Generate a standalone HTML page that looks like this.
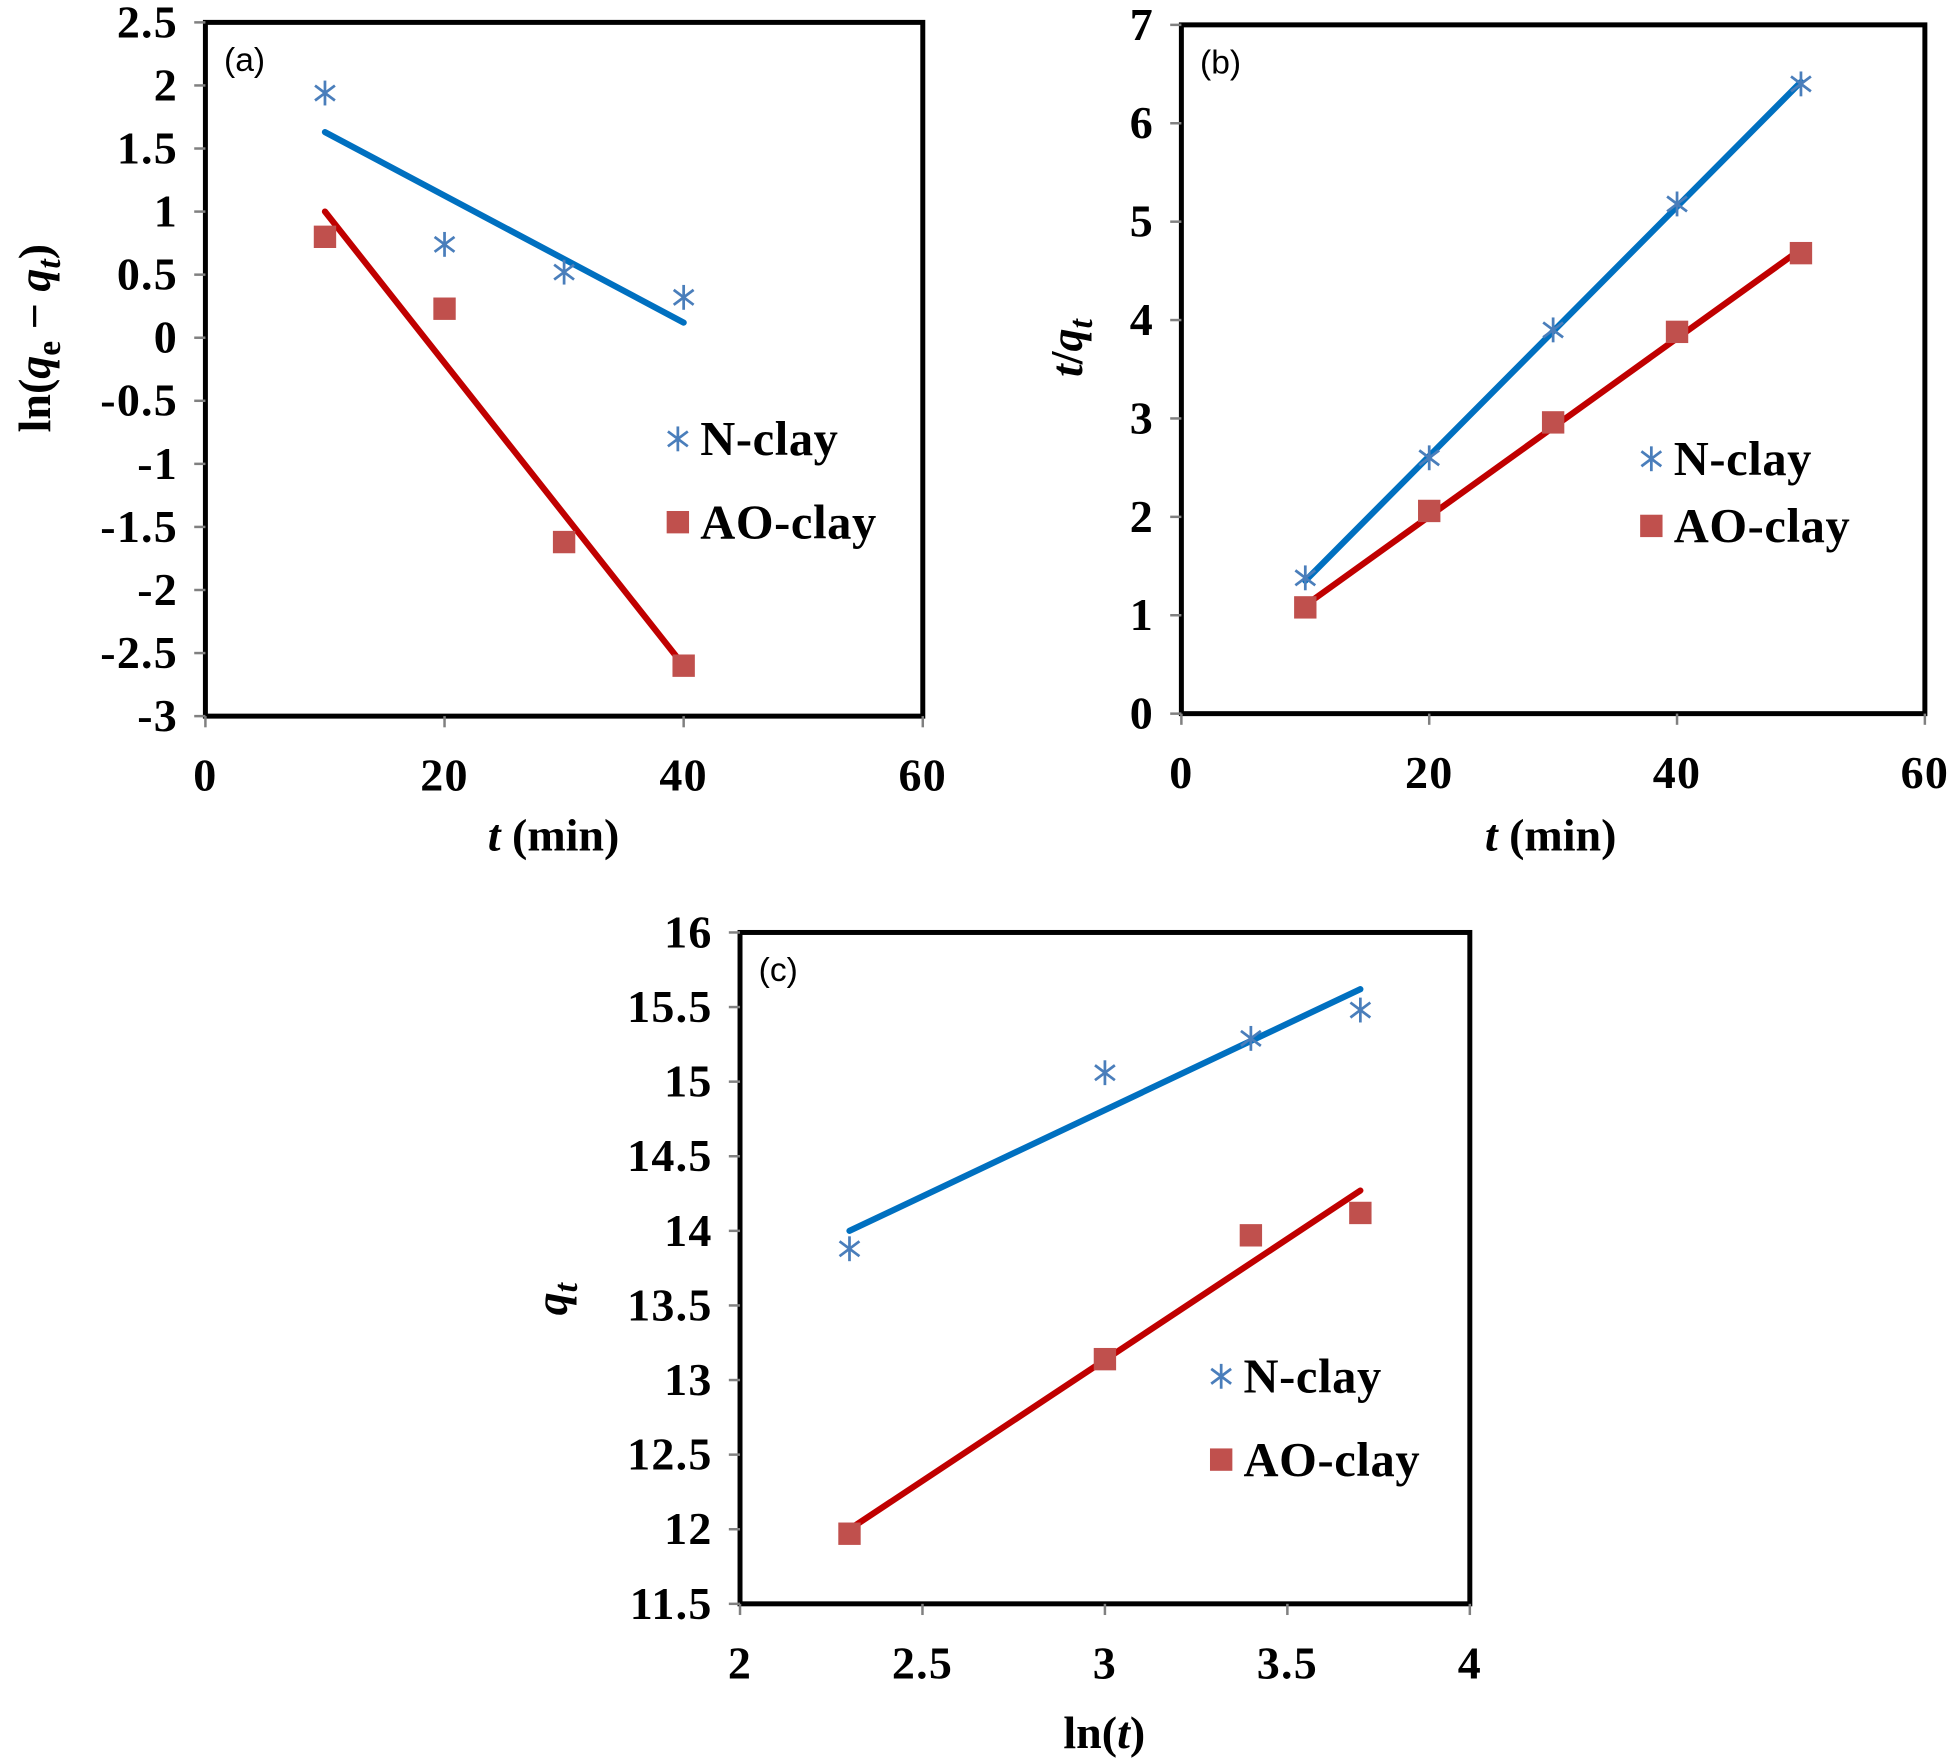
<!DOCTYPE html>
<html><head><meta charset="utf-8"><style>
html,body{margin:0;padding:0;background:#fff;}
svg{display:block;}
.tk{font-family:"Liberation Serif",serif;font-weight:bold;font-size:37px;letter-spacing:1px;fill:#000;}
.ttl{font-family:"Liberation Serif",serif;font-weight:bold;font-size:37px;fill:#000;}
.lg{font-family:"Liberation Serif",serif;font-weight:bold;font-size:39px;letter-spacing:0.5px;fill:#000;}
.pl{font-family:"Liberation Sans",sans-serif;font-size:27px;fill:#000;}
</style></head><body>
<svg id="fig" width="1950" height="1758" viewBox="0 0 1568 1414" xmlns="http://www.w3.org/2000/svg"></svg>
<script>
// Panel (a)
const aX = [10, 20, 30, 40];
const aN = [1.94, 0.74, 0.52, 0.32];
const aAO = [0.80, 0.23, -1.62, -2.60];
const aFitN = [1.63, 0.12];
const aFitAO = [1.00, -2.60];
const aXTicks = [0, 20, 40, 60];
const aYTicks = [2.5, 2, 1.5, 1, 0.5, 0, -0.5, -1, -1.5, -2, -2.5, -3];
// Panel (b)
const bX = [10, 20, 30, 40, 50];
const bN = [1.38, 2.60, 3.90, 5.18, 6.40];
const bAO = [1.08, 2.06, 2.96, 3.88, 4.68];
const bFitN = [1.35, 6.42];
const bFitAO = [1.10, 4.72];
const bXTicks = [0, 20, 40, 60];
const bYTicks = [0, 1, 2, 3, 4, 5, 6, 7];
// Panel (c)
const cX = [2.3, 3.0, 3.4, 3.7];
const cN = [13.88, 15.06, 15.29, 15.48];
const cAO = [11.97, 13.14, 13.97, 14.12];
const cFitN = [14.0, 15.62];
const cFitAO = [12.0, 14.27];
const cXTicks = [2, 2.5, 3, 3.5, 4];
const cYTicks = [16, 15.5, 15, 14.5, 14, 13.5, 13, 12.5, 12, 11.5];

const NS = "http://www.w3.org/2000/svg";
const fig = document.getElementById('fig');
function mk(tag, attrs, parent, txt){
  const e = document.createElementNS(NS, tag);
  for (const k in attrs) e.setAttribute(k, attrs[k]);
  if (txt !== undefined) e.textContent = txt;
  (parent || fig).appendChild(e);
  return e;
}
function panel(cfg){
  const g = mk('g', {});
  
  
  const L=cfg.L,R=cfg.R,T=cfg.T,B=cfg.B;
  const sx = v => L + (v - cfg.x0) / (cfg.x1 - cfg.x0) * (R - L);
  const sy = v => B - (v - cfg.y0) / (cfg.y1 - cfg.y0) * (B - T);
  const frame = mk('rect', {x:L, y:T, width:R-L, height:B-T, fill:'#fff', stroke:'#000', 'stroke-width':4}, g);
  
  
  cfg.yt.forEach(v => {
    const y = sy(v);
    mk('line', {x1:L-9, x2:L, y1:y, y2:y, stroke:'#808080', 'stroke-width':2}, g);
    const t = mk('text', {x:L-22, y:y+12, 'text-anchor':'end', class:'tk'}, g, String(v));
    
    
  });
  cfg.xt.forEach(v => {
    const x = sx(v);
    mk('line', {x1:x, x2:x, y1:B, y2:B+9, stroke:'#808080', 'stroke-width':2}, g);
    const t = mk('text', {x:x, y:B+60, 'text-anchor':'middle', class:'tk'}, g, String(v));
    
    
  });
  const xs = cfg.xs;
  const l1 = mk('line', {x1:sx(xs[0]), y1:sy(cfg.fitN[0]), x2:sx(xs[xs.length-1]), y2:sy(cfg.fitN[1]), stroke:'#0070c0', 'stroke-width':5, 'stroke-linecap':'round'}, g);
  
  
  const l2 = mk('line', {x1:sx(xs[0]), y1:sy(cfg.fitAO[0]), x2:sx(xs[xs.length-1]), y2:sy(cfg.fitAO[1]), stroke:'#c00000', 'stroke-width':5, 'stroke-linecap':'round'}, g);
  
  
  xs.forEach((xv, i) => {
    const s = star(sx(xv), sy(cfg.n[i]), g);
    
    
    const q = mk('rect', {x:sx(xv)-9, y:sy(cfg.ao[i])-9, width:18, height:18, fill:'#c0504d'}, g);
    
    
  });
  const pl = mk('text', {x:L+15, y:T+39, class:'pl'}, g, cfg.label);
  
  
  const lg = mk('g', {}, g);
  
  
  star(cfg.lgx, cfg.lgy1, lg);
  mk('text', {x:cfg.lgx+18, y:cfg.lgy1+13, class:'lg'}, lg, 'N-clay');
  mk('rect', {x:cfg.lgx-9, y:cfg.lgy2-9, width:18, height:18, fill:'#c0504d'}, lg);
  mk('text', {x:cfg.lgx+18, y:cfg.lgy2+13, class:'lg'}, lg, 'AO-clay');
  return {g, sx, sy};
}
function star(x, y, parent){
  const g = mk('g', {stroke:'#4a7ebb', 'stroke-width':2.2}, parent);
  const r = 10;
  mk('line', {x1:x, y1:y-r, x2:x, y2:y+r}, g);
  mk('line', {x1:x-r*0.8, y1:y-r*0.6, x2:x+r*0.8, y2:y+r*0.6}, g);
  mk('line', {x1:x-r*0.8, y1:y+r*0.6, x2:x+r*0.8, y2:y-r*0.6}, g);
  return g;
}
const pa = panel({name:'panel-a', label:'(a)', L:165, R:742, T:18, B:576, x0:0, x1:60, y0:-3, y1:2.5,
  xt:aXTicks, yt:aYTicks, xs:aX, n:aN, ao:aAO, fitN:aFitN, fitAO:aFitAO, lgx:545, lgy1:353, lgy2:420});
const pb = panel({name:'panel-b', label:'(b)', L:950, R:1548, T:20, B:574, x0:0, x1:60, y0:0, y1:7,
  xt:bXTicks, yt:bYTicks, xs:bX, n:bN, ao:bAO, fitN:bFitN, fitAO:bFitAO, lgx:1328, lgy1:369, lgy2:423});
const pc = panel({name:'panel-c', label:'(c)', L:595, R:1182, T:750, B:1290, x0:2, x1:4, y0:11.5, y1:16,
  xt:cXTicks, yt:cYTicks, xs:cX, n:cN, ao:cAO, fitN:cFitN, fitAO:cFitAO, lgx:982, lgy1:1107, lgy2:1174});
</script>
<script>
(function(){
  const NS="http://www.w3.org/2000/svg";const fig=document.getElementById('fig');
  function t(html, attrs, name){
    const e=document.createElementNS(NS,'text');
    for(const k in attrs)e.setAttribute(k,attrs[k]);
    e.setAttribute('class','ttl');
    e.innerHTML=html;
    
    
    fig.appendChild(e);
  }
  t('<tspan font-style="italic">t</tspan> (min)', {x:445,y:684,'text-anchor':'middle'}, 'x-axis-title-a');
  t('<tspan font-style="italic">t</tspan> (min)', {x:1247,y:684,'text-anchor':'middle'}, 'x-axis-title-b');
  t('ln(<tspan font-style="italic">t</tspan>)', {x:888,y:1406,'text-anchor':'middle'}, 'x-axis-title-c');
  t('ln(<tspan font-style="italic">q</tspan><tspan font-size="27" dy="8">e</tspan><tspan dy="-8"> − </tspan><tspan font-style="italic">q</tspan><tspan font-size="27" font-style="italic" dy="8">t</tspan><tspan dy="-8">)</tspan>', {x:0,y:0,'text-anchor':'middle',transform:'translate(40,272) rotate(-90)'}, 'y-axis-title-a');
  t('<tspan font-style="italic">t</tspan>/<tspan font-style="italic">q</tspan><tspan font-size="27" font-style="italic" dy="8">t</tspan>', {x:0,y:0,'text-anchor':'middle',transform:'translate(870,280) rotate(-90)'}, 'y-axis-title-b');
  t('<tspan font-style="italic">q</tspan><tspan font-size="27" font-style="italic" dy="8">t</tspan>', {x:0,y:0,'text-anchor':'middle',transform:'translate(456,1045) rotate(-90)'}, 'y-axis-title-c');
})();
</script>
</body></html>
